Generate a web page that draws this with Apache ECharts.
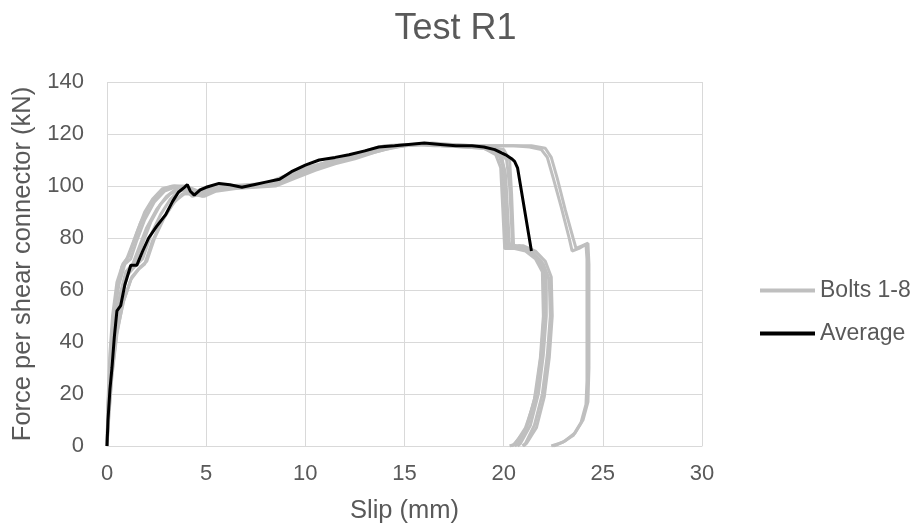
<!DOCTYPE html>
<html>
<head>
<meta charset="utf-8">
<script src="https://cdn.jsdelivr.net/npm/echarts@6/dist/echarts.min.js"></script>
<style>
  html, body { margin: 0; padding: 0; background: #fff; }
  #chart { width: 911px; height: 529px; }
</style>
</head>
<body>
<div id="chart"></div>
<script>
// slip (mm), force per shear connector (kN)
var bolt1 = [[0,0],[0.05,15],[0.15,32],[0.3,48],[0.5,60],[0.75,69],[1.0,72],[1.3,78],[1.7,86],[2.1,92],[2.5,96],[2.9,99],[3.4,100],[4.0,99.5],[4.5,98],[5.0,99.5],[6.0,100],[7.0,100],[8.0,101],[9.0,104],[10.0,107],[11.0,109],[12.0,111],[13.0,113.5],[14.0,115.5],[15.0,116],[16.0,116],[17.0,115.5],[18.0,115.5],[19.0,115],[19.7,113],[19.95,108],[20.05,95],[20.15,77],[20.5,76.5],[21.0,76],[21.5,74],[21.9,70],[22.05,63],[22.0,45],[21.85,30],[21.55,17],[21.1,7],[20.6,1],[20.4,0]];
var bolt2 = [[0,0],[0.07,14],[0.2,30],[0.4,46],[0.65,58],[0.95,67],[1.3,70],[1.6,76],[2.0,84],[2.5,91],[3.0,96],[3.5,99],[4.0,98],[4.3,96],[4.8,97],[5.5,99],[6.5,100],[7.5,100],[8.5,101],[9.5,104],[10.5,107.5],[11.5,109.5],[12.5,111.5],[13.5,114],[14.5,115.5],[15.5,116],[16.5,115.5],[17.5,115.5],[18.5,115],[19.4,114],[19.9,111],[20.1,104],[20.2,90],[20.3,76],[20.8,77],[21.4,75],[21.9,71],[22.15,65],[22.15,50],[22.0,35],[21.75,20],[21.35,8],[20.85,1],[20.7,0]];
var bolt3 = [[0,0],[0.1,12],[0.25,27],[0.5,43],[0.8,55],[1.2,64],[1.6,68],[1.9,70],[2.3,79],[2.8,87],[3.3,93],[3.8,97],[4.3,97],[4.8,96],[5.3,98],[6.0,99],[7.0,99.5],[8.0,100],[9.0,102],[10.0,105],[11.0,108],[12.0,110],[13.0,112],[14.0,114],[15.0,115.5],[16.0,116],[17.0,116],[18.0,115.5],[19.0,115],[19.8,113.5],[20.15,110],[20.3,100],[20.4,85],[20.45,77],[20.9,76],[21.5,74],[22.0,70],[22.3,64],[22.35,50],[22.2,35],[21.95,20],[21.55,8],[21.1,1],[20.95,0]];
var bolt4 = [[0,0],[0.06,16],[0.18,34],[0.35,50],[0.6,62],[0.9,70],[1.2,72],[1.5,79],[1.9,87],[2.4,94],[2.9,98],[3.4,99.5],[4.0,99],[4.6,97],[5.2,99],[6.0,100],[7.0,100.5],[8.0,101],[9.0,103],[10.0,106.5],[11.0,109],[12.0,111],[13.0,113],[14.0,115],[15.0,116],[16.0,116],[17.0,115.5],[18.0,115],[19.0,114.5],[19.8,112],[20.05,106],[20.15,92],[20.2,78],[20.6,77],[21.2,75],[21.7,72],[22.0,67],[22.05,52],[21.9,36],[21.65,21],[21.25,9],[20.75,1],[20.55,0]];
var bolt5 = [[0,0],[0.08,13],[0.22,29],[0.45,45],[0.7,57],[1.05,66],[1.4,69],[1.8,72],[2.2,81],[2.7,89],[3.2,95],[3.7,98.5],[4.2,99],[4.7,97.5],[5.3,99],[6.2,99.5],[7.2,100],[8.2,100.5],[9.2,103],[10.2,106],[11.2,108.5],[12.2,110.5],[13.2,113],[14.2,115],[15.2,116],[16.2,116],[17.2,115.5],[18.2,115.5],[19.2,115],[20.0,114],[20.3,110],[20.4,97],[20.5,77],[21.0,77],[21.6,75],[22.1,71],[22.4,65],[22.45,50],[22.3,34],[22.05,19],[21.65,7],[21.15,1],[21.0,0]];
var bolt6 = [[0,0],[0.05,17],[0.14,35],[0.28,50],[0.5,63],[0.8,70],[1.1,73],[1.5,82],[1.9,90],[2.3,95],[2.8,99],[3.3,100],[4.0,100],[4.6,98],[5.2,99.5],[6.0,100],[7.0,100],[8.0,100.5],[9.0,102.5],[10.0,105.5],[11.0,108],[12.0,110.5],[13.0,112.5],[14.0,114.5],[15.0,115.5],[16.0,116],[17.0,115.5],[18.0,115],[19.0,114.5],[19.6,112],[19.85,107],[19.95,92],[20.05,76],[20.5,76],[21.1,75],[21.6,72],[21.95,67],[22.0,50],[21.85,34],[21.55,18],[21.1,6],[20.5,0.5],[20.3,0]];
var bolt7 = [[0,0],[0.09,12],[0.25,28],[0.5,44],[0.85,56],[1.25,65],[1.7,69],[2.0,71],[2.4,80],[2.9,88],[3.4,94],[3.9,97],[4.4,97],[4.9,96],[5.5,98],[6.5,99],[7.5,99.5],[8.5,100],[9.5,103],[10.5,106],[11.5,108.5],[12.5,110.5],[13.5,113],[14.5,115],[15.5,116],[16.5,116],[17.5,116],[18.5,115.5],[19.5,115.5],[20.5,115.5],[21.3,115],[21.9,114],[22.2,111],[22.5,103],[22.9,92],[23.3,80],[23.45,75],[23.8,76],[24.15,77.5],[24.2,72],[24.2,60],[24.2,40],[24.2,25],[24.15,16],[23.9,9],[23.5,4],[23.0,1.5],[22.6,0.5],[22.4,0]];
var bolt8 = [[0,0],[0.07,14],[0.2,31],[0.4,47],[0.7,59],[1.05,67],[1.45,71],[1.8,78],[2.2,86],[2.7,93],[3.2,97],[3.7,99],[4.3,98.5],[4.8,97],[5.4,98.5],[6.4,99.5],[7.4,100],[8.4,100.5],[9.4,103.5],[10.4,107],[11.4,109],[12.4,111],[13.4,113.5],[14.4,115.5],[15.4,116],[16.4,116.5],[17.4,116],[18.4,115.5],[19.4,115.5],[20.4,115.5],[21.4,115.5],[22.1,114.5],[22.4,111],[22.7,103],[23.1,91],[23.5,80],[23.65,76],[23.95,77],[24.25,78],[24.3,70],[24.3,50],[24.3,30],[24.25,17],[24.0,10],[23.6,5],[23.1,2],[22.7,0.5],[22.5,0]];
var average = [[0,0],[0.05,10],[0.15,22],[0.25,30],[0.37,42],[0.5,52],[0.69,54],[0.9,62],[1.2,69.5],[1.5,69.5],[1.8,75],[2.1,80],[2.5,84.5],[2.96,89],[3.3,94],[3.6,97.6],[3.9,99.5],[4.05,100.5],[4.2,98],[4.4,96.5],[4.7,98.5],[5.0,99.5],[5.65,101],[6.2,100.5],[6.8,99.5],[7.4,100.5],[8.0,101.5],[8.7,102.6],[9.3,105.5],[10.0,108],[10.7,110],[11.5,111],[12.2,112],[13.0,113.5],[13.7,115],[14.5,115.5],[15.2,116],[16.0,116.5],[16.8,116],[17.6,115.5],[18.4,115.5],[19.0,115],[19.55,114],[20.1,112],[20.4,110.5],[20.55,109.5],[20.7,107],[21.4,75]];

var bolts = [bolt1, bolt2, bolt3, bolt4, bolt5, bolt6, bolt7, bolt8];

var myChart = echarts.init(document.getElementById('chart'));

var font = 'Liberation Sans, Arial, sans-serif';
var series = [];
bolts.forEach(function (b) {
    series.push({
        name: 'Bolts 1-8',
        type: 'line',
        data: b,
        symbol: 'none',
        lineStyle: { color: '#BFBFBF', width: 3 },
        itemStyle: { color: '#BFBFBF' }
    });
});
series.push({
    name: 'Average',
    type: 'line',
    data: average,
    symbol: 'none',
    lineStyle: { color: '#000000', width: 3 },
    itemStyle: { color: '#000000' }
});

var option = {
    animation: false,
    title: {
        text: 'Test R1',
        left: 'center',
        top: 6,
        textStyle: { fontFamily: font, fontSize: 36, fontWeight: 'normal', color: '#595959' }
    },
    legend: {
        orient: 'vertical',
        left: 755,
        top: 274,
        icon: 'rect',
        itemWidth: 55,
        itemHeight: 4,
        itemGap: 20,
        data: ['Bolts 1-8', 'Average'],
        textStyle: { fontFamily: font, fontSize: 23, color: '#595959' }
    },
    grid: { left: 107, right: 209, top: 82, bottom: 82 },
    xAxis: {
        type: 'value',
        min: 0, max: 30, interval: 5,
        name: 'Slip (mm)',
        nameLocation: 'middle',
        nameGap: 52,
        nameTextStyle: { fontFamily: font, fontSize: 25.5, color: '#595959' },
        axisLine: { lineStyle: { color: '#D9D9D9' } },
        axisTick: { show: false },
        axisLabel: { fontFamily: font, fontSize: 22, color: '#595959', margin: 17 },
        splitLine: { lineStyle: { color: '#D9D9D9', width: 1 } }
    },
    yAxis: {
        type: 'value',
        min: 0, max: 140, interval: 20,
        name: 'Force per shear connector (kN)',
        nameLocation: 'middle',
        nameGap: 70,
        nameTextStyle: { fontFamily: font, fontSize: 25.5, color: '#595959' },
        axisLine: { show: false },
        axisTick: { show: false },
        axisLabel: { fontFamily: font, fontSize: 22, color: '#595959', margin: 23 },
        splitLine: { lineStyle: { color: '#D9D9D9', width: 1 } }
    },
    series: series
};

myChart.setOption(option);
</script>
</body>
</html>
